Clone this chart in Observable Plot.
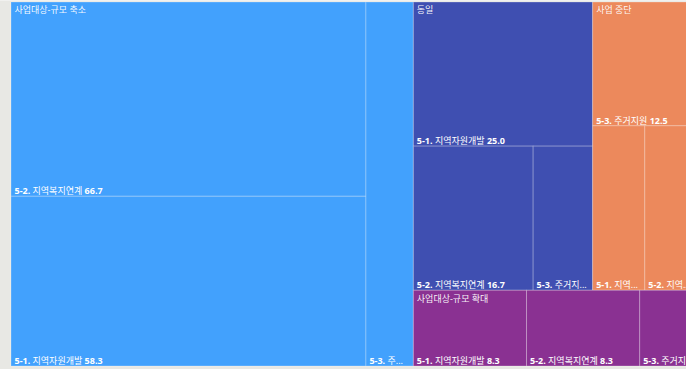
<!DOCTYPE html>
<html>
<head>
<meta charset="utf-8">
<style>
  html, body { margin: 0; padding: 0; background: #e8e8e4; }
  #chart svg { display: block; }
</style>
<script src="https://cdn.jsdelivr.net/npm/d3@7"></script>
<script src="https://cdn.jsdelivr.net/npm/@observablehq/plot@0.6"></script>
</head>
<body>
<div id="chart"></div>
<script>
// ---- data ----
const groups = ["사업대상-규모 축소", "동일", "사업 중단", "사업대상-규모 확대"];
const codes = ["5-1.", "5-2.", "5-3."];
const names = ["지역자원개발", "지역복지연계", "주거지원"];
const valuesReduce = [58.3, 66.7, 16.7];
const valuesSame = [25.0, 16.7, 8.3];
const valuesStop = [8.3, 8.3, 12.5];
const valuesExpand = [8.3, 8.3, 4.2];
const groupColors = ["#42a1fd", "#3f4fb1", "#ec895c", "#8a3192"];

const seriesValues = [valuesReduce, valuesSame, valuesStop, valuesExpand];
const fmt = d3.format(".1f");

// ---- treemap layout (layout units) ----
const W = 686, H = 364;
const root = d3.hierarchy({
  children: groups.map((g, gi) => ({
    name: g,
    children: codes.map((c, ci) => ({group: g, code: c, name: names[ci], value: seriesValues[gi][ci]}))
  }))
})
  .sum(d => d.value)
  .sort((a, b) => b.value - a.value);
d3.treemap().size([W, H]).tile(d3.treemapSquarify)(root);

const leaves = root.leaves();
const groupNodes = root.children;

const plot = Plot.plot({
  width: 686,
  height: 369,
  margin: 0,
  x: {domain: [0, W], range: [11, 11 + W], axis: null},
  y: {domain: [0, H], range: [2, 2 + H], axis: null},
  color: {domain: groups, range: groupColors},
  style: {
    background: "linear-gradient(#f1f1ef 0 1.5px, #e8e8e4 1.5px)",
    fontFamily: "'Noto Sans', 'Noto Sans CJK KR', sans-serif",
    fontSize: "9px"
  },
  marks: [
    Plot.rect(leaves, {
      x1: d => d.x0, x2: d => d.x1, y1: d => d.y0, y2: d => d.y1,
      fill: d => d.data.group,
      stroke: "white", strokeOpacity: 0.25, strokeWidth: 1
    }),
    Plot.text(groupNodes, {
      x: d => d.x0, y: d => d.y0,
      text: d => d.data.name,
      dx: 3, dy: 8,
      textAnchor: "start", lineAnchor: "middle",
      fill: "white", fillOpacity: 0.95,
      className: "group-label"
    }),
    Plot.text(leaves, {
      x: d => d.x0, y: d => d.y1,
      text: d => `${d.data.code} ${d.data.name} ${fmt(d.data.value)}`,
      dx: 3, dy: -5.5,
      textAnchor: "start", lineAnchor: "middle",
      fill: "white",
      className: "leaf-label"
    })
  ]
});

document.getElementById("chart").append(plot);

// mixed-weight labels with ellipsis truncation
const NS = "http://www.w3.org/2000/svg";
let leafTexts = plot.querySelectorAll("g.leaf-label text");
if (!leafTexts.length) {
  const gs = plot.querySelectorAll('g[aria-label="text"]');
  leafTexts = gs[gs.length - 1].querySelectorAll("text");
}
leafTexts.forEach((t, i) => {
  const d = leaves[i];
  const avail = d.x1 - d.x0 - 6;
  const build = (nameStr, valueStr, ellipsis) => {
    while (t.firstChild) t.removeChild(t.firstChild);
    const c = document.createElementNS(NS, "tspan");
    c.setAttribute("font-weight", "700");
    c.textContent = d.data.code;
    t.appendChild(c);
    const n = document.createElementNS(NS, "tspan");
    n.setAttribute("font-weight", "400");
    n.textContent = " " + nameStr + (ellipsis ? "..." : "");
    t.appendChild(n);
    if (valueStr) {
      const v = document.createElementNS(NS, "tspan");
      v.setAttribute("font-weight", "700");
      v.textContent = " " + valueStr;
      t.appendChild(v);
    }
  };
  build(d.data.name, fmt(d.data.value), false);
  if (t.getComputedTextLength() > avail) {
    const nm = d.data.name;
    for (let k = nm.length; k >= 0; k--) {
      build(nm.slice(0, k), null, true);
      if (t.getComputedTextLength() <= avail) break;
    }
  }
});
</script>
</body>
</html>
